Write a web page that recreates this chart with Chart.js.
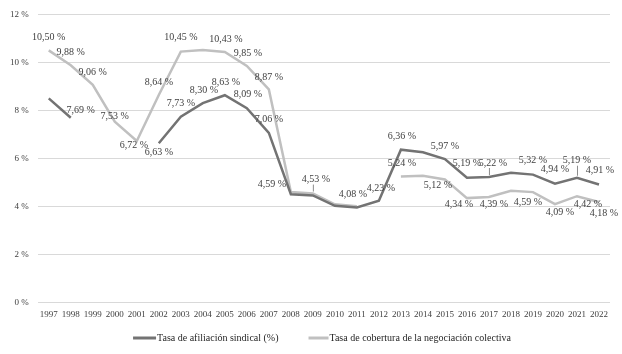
<!DOCTYPE html>
<html>
<head>
<meta charset="utf-8">
<script src="https://cdn.jsdelivr.net/npm/chart.js@4"></script>
<style>
  html, body { margin: 0; padding: 0; background: #fff; }
  #wrap { width: 622px; height: 354px; position: relative; }
</style>
</head>
<body>
<div id="wrap"><canvas id="chart"></canvas></div>
<script>
// Years on the x axis
const years = ['1997', '1998', '1999', '2000', '2001', '2002', '2003', '2004', '2005',
  '2006', '2007', '2008', '2009', '2010', '2011', '2012', '2013', '2014', '2015',
  '2016', '2017', '2018', '2019', '2020', '2021', '2022'];

// Tasa de afiliación sindical (%)  - gap 1999-2001
const afiliacion = [8.50, 7.69, null, null, null, 6.63, 7.73, 8.30, 8.63, 8.09, 7.06,
  4.50, 4.45, 4.02, 3.95, 4.23, 6.36, 6.25, 5.97, 5.19, 5.22, 5.40, 5.32, 4.94, 5.19, 4.91];

// Tasa de cobertura de la negociación colectiva - gap 2012
const cobertura = [10.50, 9.88, 9.06, 7.53, 6.72, 8.64, 10.45, 10.52, 10.43, 9.85, 8.87,
  4.59, 4.53, 4.08, 4.00, null, 5.24, 5.27, 5.12, 4.34, 4.39, 4.65, 4.59, 4.09, 4.42, 4.18];

const yTicks = [0, 2, 4, 6, 8, 10, 12];

const seriesNames = ['Tasa de afiliación sindical (%)', 'Tasa de cobertura de la negociación colectiva'];

// which years get a value label (from the picture)
const afiliacionLabelled = ['1998', '2002', '2003', '2004', '2005', '2006', '2007', '2012', '2013',
  '2015', '2016', '2017', '2019', '2020', '2021', '2022'];
const coberturaLabelled = ['1997', '1998', '1999', '2000', '2001', '2002', '2003', '2005', '2006',
  '2007', '2008', '2009', '2010', '2013', '2015', '2016', '2017', '2019', '2020', '2021', '2022'];

const DARK = '#737373';
const LIGHT = '#c0c0c0';
const FONT = '"Liberation Serif", "DejaVu Serif", serif';

// label placement relative to the point: [dx, dy, leader]
const labelPos = [
  {
    '1998': [10, -7], '2002': [0, 9], '2003': [0, -13], '2004': [1, -13], '2005': [1, -13],
    '2006': [1, -14], '2007': [0, -14], '2012': [2, -12], '2013': [1, -13], '2015': [0, -13],
    '2016': [0, -14], '2017': [4, -14, true], '2019': [0, -14], '2020': [0, -14],
    '2021': [0, -17, true], '2022': [1, -14]
  },
  {
    '1997': [0, -13], '1998': [0, -13], '1999': [0, -13], '2000': [0, -5], '2001': [-3, 4],
    '2002': [0, -13], '2003': [0, -14], '2005': [1, -13], '2006': [1, -13], '2007': [0, -12],
    '2008': [-19, -8], '2009': [3, -14, true], '2010': [18, -10], '2013': [1, -13],
    '2015': [-7, 6], '2016': [-8, 6], '2017': [5, 7], '2019': [-5, 10], '2020': [5, 8],
    '2021': [11, 8], '2022': [5, 11]
  }
];
const labelled = [afiliacionLabelled, coberturaLabelled];

function fmt(v) {
  return v.toFixed(2).replace('.', ',') + ' %';
}

// Draw the value labels next to the points
const valueLabels = {
  id: 'valueLabels',
  afterDatasetsDraw(chart) {
    const ctx = chart.ctx;
    ctx.save();
    ctx.font = '10px ' + FONT;
    ctx.fillStyle = '#404040';
    ctx.textAlign = 'center';
    ctx.textBaseline = 'middle';
    chart.data.datasets.forEach((ds, i) => {
      const meta = chart.getDatasetMeta(i);
      labelled[i].forEach(year => {
        const j = years.indexOf(year);
        const v = ds.data[j];
        if (v == null) return;
        const pt = meta.data[j];
        const pos = labelPos[i][year] || [0, -13];
        const tx = pt.x + pos[0];
        const ty = pt.y + pos[1];
        if (pos[2]) {
          ctx.strokeStyle = '#8c8c8c';
          ctx.lineWidth = 1;
          ctx.beginPath();
          ctx.moveTo(pt.x + 0.5, pt.y - 2);
          ctx.lineTo(pt.x + 0.5, ty + 5);
          ctx.stroke();
        }
        ctx.fillText(fmt(v), tx, ty);
      });
    });
    ctx.restore();
  }
};

// Legend drawn as short line samples like the original
const lineLegend = {
  id: 'lineLegend',
  afterDraw(chart) {
    const ctx = chart.ctx;
    const items = [
      { text: seriesNames[0], color: DARK, len: 23 },
      { text: seriesNames[1], color: LIGHT, len: 20 }
    ];
    const gap = 30;
    ctx.save();
    ctx.font = '10px ' + FONT;
    let total = 0;
    items.forEach((it, k) => {
      it.w = it.len + 1 + ctx.measureText(it.text).width;
      total += it.w + (k ? gap : 0);
    });
    let x = 322 - total / 2;
    const y = 338;
    items.forEach(it => {
      ctx.strokeStyle = it.color;
      ctx.lineWidth = 3;
      ctx.beginPath();
      ctx.moveTo(x, y);
      ctx.lineTo(x + it.len, y);
      ctx.stroke();
      ctx.fillStyle = '#262626';
      ctx.textAlign = 'left';
      ctx.textBaseline = 'middle';
      ctx.fillText(it.text, x + it.len + 1, y);
      x += it.w + gap;
    });
    ctx.restore();
  }
};

new Chart(document.getElementById('chart').getContext('2d'), {
  type: 'line',
  data: {
    labels: years,
    datasets: [
      {
        label: seriesNames[0],
        data: afiliacion,
        borderColor: DARK,
        backgroundColor: DARK,
        borderWidth: 2.5,
        pointRadius: 0,
        tension: 0,
        spanGaps: false
      },
      {
        label: seriesNames[1],
        data: cobertura,
        borderColor: LIGHT,
        backgroundColor: LIGHT,
        borderWidth: 2.5,
        pointRadius: 0,
        tension: 0,
        spanGaps: false
      }
    ]
  },
  options: {
    responsive: true,
    maintainAspectRatio: false,
    animation: false,
    layout: {
      padding: { left: 1, right: 12, top: 10, bottom: 27 }
    },
    plugins: {
      legend: { display: false },
      tooltip: { enabled: false }
    },
    scales: {
      x: {
        offset: true,
        grid: { display: false, drawTicks: false },
        border: { display: false },
        ticks: {
          autoSkip: false,
          maxRotation: 0,
          minRotation: 0,
          padding: 7,
          color: '#404040',
          font: { family: FONT, size: 9 }
        }
      },
      y: {
        min: 0,
        max: 12,
        afterBuildTicks: axis => {
          axis.ticks = yTicks.map(v => ({ value: v }));
        },
        grid: { color: '#d9d9d9', lineWidth: 1, drawTicks: false },
        border: { display: false },
        ticks: {
          padding: 9,
          color: '#404040',
          font: { family: FONT, size: 9 },
          callback: v => v + ' %'
        }
      }
    }
  },
  plugins: [valueLabels, lineLegend]
});
</script>
</body>
</html>
